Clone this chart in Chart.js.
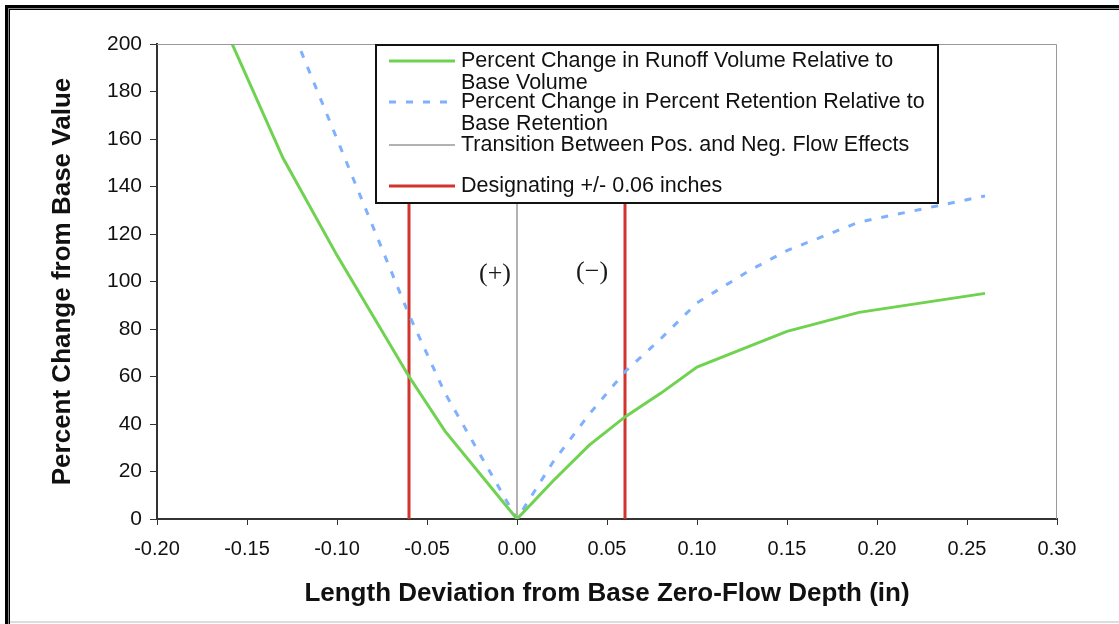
<!DOCTYPE html>
<html>
<head>
<meta charset="utf-8">
<script src="https://cdn.jsdelivr.net/npm/chart.js@4/dist/chart.umd.min.js"></script>
<style>
	body { margin: 0; background: #fff; }
	canvas { display: block; }
</style>
</head>
<body>
<canvas id="depth-chart" width="1119" height="624"></canvas>
<script>
// values
const runoffX = [-0.16, -0.13, -0.10, -0.06, -0.04, 0, 0.02, 0.04, 0.06, 0.08, 0.10, 0.13, 0.15, 0.19, 0.26];
const runoffY = [203, 152, 111, 60, 37, 0, 16, 31, 43, 53, 64, 73, 79, 87, 95];
const retentionX = [-0.12, -0.10, -0.06, -0.04, 0, 0.02, 0.04, 0.06, 0.08, 0.10, 0.13, 0.15, 0.19, 0.26];
const retentionY = [197, 160, 86, 53, 0, 24, 44, 62, 76, 91, 105, 113, 125, 136];
const transitionX = [0, 0];
const limitY = [0, 200];
const limitLowX = [-0.06, -0.06];
const limitHighX = [0.06, 0.06];

const legendLines = [
	["Percent Change in Runoff Volume Relative to", "Base Volume"],
	["Percent Change in Percent Retention Relative to", "Base Retention"],
	["Transition Between Pos. and Neg. Flow Effects"],
	["Designating +/- 0.06 inches"]
];
const signText = ["(+)", "(\u2212)"];
const signX = [-0.0122, 0.0417];
const signY = [103, 104];

function pts(xs, ys) {
	return xs.map((x, i) => ({ x: x, y: ys[i] }));
}

const sansFont = "'Liberation Sans', Arial, sans-serif";

const framePlugin = {
	id: "frame",
	beforeDraw(chart) {
		const ctx = chart.ctx;
		ctx.save();
		ctx.fillStyle = "#fff";
		ctx.fillRect(0, 0, chart.width, chart.height);
		// double frame round the figure
		ctx.fillStyle = "#000";
		ctx.fillRect(5, 5, chart.width - 5, 3);
		ctx.fillRect(5, 5, 3, chart.height - 5);
		ctx.fillStyle = "#888";
		ctx.fillRect(8, 8, chart.width - 8, 1);
		ctx.fillRect(8, 8, 1, chart.height - 8);
		ctx.fillStyle = "#000";
		ctx.fillRect(9, 9, chart.width - 9, 1);
		ctx.fillRect(9, 9, 1, chart.height - 9);
		ctx.fillStyle = "#ddd";
		ctx.fillRect(10, chart.height - 3, chart.width - 10, 2);
		ctx.restore();
	},
	afterDatasetsDraw(chart) {
		const ctx = chart.ctx;
		const a = chart.chartArea;
		const xs = chart.scales.x, ys = chart.scales.y;
		ctx.save();
		// light top/right border of the plot box
		ctx.strokeStyle = "#999";
		ctx.lineWidth = 1;
		ctx.beginPath();
		ctx.moveTo(a.left, a.top + 0.5);
		ctx.lineTo(a.right - 0.5, a.top + 0.5);
		ctx.lineTo(a.right - 0.5, a.bottom);
		ctx.stroke();

		// (+) and (-) marks
		ctx.fillStyle = "#1a1a1a";
		ctx.font = "26px 'Liberation Serif', 'Times New Roman', serif";
		ctx.textAlign = "center";
		ctx.textBaseline = "middle";
		signText.forEach((t, i) => {
			ctx.fillText(t, xs.getPixelForValue(signX[i]), ys.getPixelForValue(signY[i]));
		});

		// legend box
		const bx = 376, by = 45, bw = 562, bh = 158;
		ctx.fillStyle = "#fff";
		ctx.fillRect(bx, by, bw, bh);
		ctx.strokeStyle = "#111";
		ctx.lineWidth = 2;
		ctx.strokeRect(bx, by, bw, bh);
		const rowY = [61, 102, 145, 186];
		ctx.font = "21.5px " + sansFont;
		ctx.textAlign = "left";
		chart.data.datasets.slice(0, 4).forEach((ds, i) => {
			ctx.strokeStyle = ds.borderColor;
			ctx.lineWidth = ds.borderWidth;
			ctx.setLineDash(ds.borderDash || []);
			ctx.beginPath();
			ctx.moveTo(389, rowY[i]);
			ctx.lineTo(455, rowY[i]);
			ctx.stroke();
			ctx.setLineDash([]);
			ctx.fillStyle = "#111";
			legendLines[i].forEach((line, j) => {
				ctx.fillText(line, 461, rowY[i] + j * 22);
			});
		});
		ctx.restore();
	}
};

new Chart(document.getElementById("depth-chart"), {
	type: "scatter",
	data: {
		datasets: [
			{
				data: pts(runoffX, runoffY),
				showLine: true,
				borderColor: "#6fd250",
				borderWidth: 3,
				pointRadius: 0,
				order: 1
			},
			{
				data: pts(retentionX, retentionY),
				showLine: true,
				borderColor: "#7fb0ff",
				borderWidth: 3,
				borderDash: [7, 10],
				pointRadius: 0,
				order: 2
			},
			{
				data: pts(transitionX, limitY),
				showLine: true,
				borderColor: "#999",
				borderWidth: 1.5,
				pointRadius: 0,
				order: 3
			},
			{
				data: pts(limitLowX, limitY),
				showLine: true,
				borderColor: "#d0342c",
				borderWidth: 3,
				pointRadius: 0,
				order: 4
			},
			{
				data: pts(limitHighX, limitY),
				showLine: true,
				borderColor: "#d0342c",
				borderWidth: 3,
				pointRadius: 0,
				order: 5
			}
		]
	},
	options: {
		responsive: false,
		animation: false,
		layout: {
			padding: { left: 0, top: 44, right: 62, bottom: 0 }
		},
		plugins: {
			legend: { display: false },
			tooltip: { enabled: false }
		},
		scales: {
			x: {
				type: "linear",
				min: -0.2,
				max: 0.3,
				afterFit: (s) => { s.height = 105; },
				ticks: {
					stepSize: 0.05,
					color: "#111",
					padding: 12,
					font: { family: sansFont, size: 20 },
					callback: (v) => (Math.abs(v) < 1e-9 ? 0 : v).toFixed(2)
				},
				grid: {
					drawOnChartArea: false,
					tickLength: 6,
					tickColor: "#333"
				},
				border: { color: "#333", width: 2 },
				title: {
					display: true,
					text: "Length Deviation from Base Zero-Flow Depth (in)",
					color: "#111",
					font: { family: sansFont, size: 26, weight: "bold" },
					padding: { top: 0, bottom: 15 }
				}
			},
			y: {
				min: 0,
				max: 200,
				afterFit: (s) => { s.width = 157; },
				ticks: {
					stepSize: 20,
					color: "#111",
					padding: 8,
					font: { family: sansFont, size: 21 }
				},
				grid: {
					drawOnChartArea: false,
					tickLength: 7,
					tickColor: "#333"
				},
				border: { color: "#333", width: 2 },
				title: {
					display: true,
					text: "Percent Change from Base Value",
					color: "#111",
					font: { family: sansFont, size: 26, weight: "bold" },
					padding: { top: 47, bottom: 0 }
				}
			}
		}
	},
	plugins: [framePlugin]
});
</script>
</body>
</html>
